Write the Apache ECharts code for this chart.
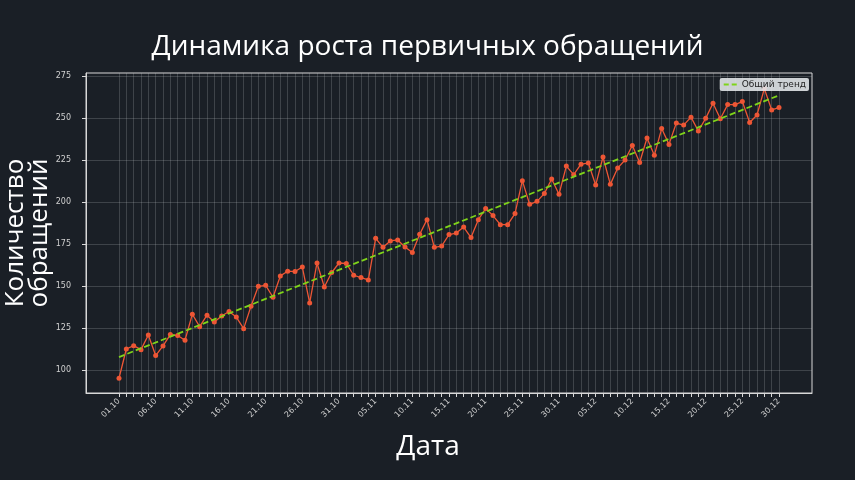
<!DOCTYPE html>
<html>
<head>
<meta charset="utf-8">
<script src="https://cdn.jsdelivr.net/npm/echarts@6/dist/echarts.min.js"></script>
<style>
html,body{margin:0;padding:0;background:#1a1f26;}
#chart{width:855px;height:480px;}
</style>
</head>
<body>
<div id="chart"></div>
<script>
// Tick labels (every 5 days, from 01.10)
var tickLabels = ['01.10','06.10','11.10','16.10','21.10','26.10','31.10','05.11','10.11','15.11','20.11','25.11','30.11','05.12','10.12','15.12','20.12','25.12','30.12'];
// Daily primary requests, 01.10 .. 30.12 (91 days)
var requests = [
  95.1,112.5,114.5,112.1,120.8,108.6,114.3,121.1,120.5,117.7,
  133.2,125.8,132.6,128.6,132.1,134.8,131.5,124.6,137.9,149.8,
  150.4,143.3,156.0,158.8,158.6,161.3,139.9,163.7,149.4,158.0,
  163.7,163.4,156.4,155.0,153.6,178.4,173.0,176.8,177.4,173.2,
  169.9,180.8,189.5,173.0,173.8,180.6,181.5,185.1,178.8,189.5,
  196.1,191.9,186.5,186.5,193.1,212.7,198.6,200.4,205.0,213.7,
  204.6,221.4,216.3,222.5,223.2,210.1,226.8,210.5,220.2,225.0,
  233.6,223.5,238.1,227.8,243.7,234.3,247.0,245.8,250.5,242.3,
  249.8,258.8,249.6,258.0,258.0,259.8,247.3,251.8,267.5,254.8,
  256.2
];
// Overall trend line endpoints (first day, last day)
var trendStart = 107.7;
var trendEnd = 263.5;
var yTicks = [100,125,150,175,200,225,250,275];

var dayTicks = [];
for (var i = 0; i < requests.length; i++) dayTicks.push(i);
var labelTicks = tickLabels.map(function(_, k){ return k * 5; });

var chart = echarts.init(document.getElementById('chart'));
chart.setOption({
  backgroundColor: '#1a1f26',
  animation: false,
  title: {
    text: 'Динамика роста первичных обращений',
    left: 'center',
    top: 28,
    textStyle: { color: '#ffffff', fontSize: 28, fontWeight: 'normal', fontFamily: 'Open Sans' }
  },
  legend: {
    data: [{ name: 'Общий тренд', icon: 'path://M0,0 L5,0 L5,2 L0,2 Z M8,0 L13,0 L13,2 L8,2 Z' }],
    right: 46,
    top: 78,
    backgroundColor: 'rgba(225,228,232,0.9)',
    borderRadius: 2,
    padding: [2, 3, 2, 4],
    itemWidth: 13,
    itemHeight: 2,
    itemGap: 4,
    textStyle: { color: '#222', fontSize: 9, fontFamily: 'DejaVu Sans' }
  },
  grid: {
    left: 86, top: 73, right: 43, bottom: 87,
    outerBoundsMode: 'none',
    containLabel: false,
    show: true, borderColor: '#d8d8d8', borderWidth: 1
  },
  xAxis: {
    type: 'value',
    min: -4.5, max: 94.5,
    name: 'Дата',
    nameLocation: 'middle',
    nameGap: 40,
    nameMoveOverlap: false,
    nameTextStyle: { color: '#ffffff', fontSize: 28, fontFamily: 'Open Sans', padding: [0, 42, 0, 0] },
    axisLine: { show: true, onZero: false, lineStyle: { color: '#d8d8d8', width: 1 } },
    axisTick: { show: true, customValues: dayTicks, length: 4, lineStyle: { color: '#d8d8d8' } },
    axisLabel: {
      customValues: labelTicks,
      rotate: 45,
      margin: 7,
      color: '#d0d0d0',
      fontSize: 8,
      fontFamily: 'DejaVu Sans',
      formatter: function(v){ return tickLabels[Math.round(v / 5)] || ''; }
    },
    splitLine: { show: true, lineStyle: { color: 'rgba(200,205,210,0.27)', width: 0.8 } }
  },
  yAxis: {
    type: 'value',
    min: 86.3, max: 276.8,
    name: 'Количество\nобращений',
    nameLocation: 'middle',
    nameRotate: 90,
    nameGap: 34,
    nameMoveOverlap: false,
    nameTextStyle: { color: '#ffffff', fontSize: 26, fontFamily: 'Open Sans', lineHeight: 24 },
    axisLine: { show: true, onZero: false, lineStyle: { color: '#d8d8d8', width: 1 } },
    axisTick: { show: true, customValues: yTicks, length: 4, lineStyle: { color: '#d8d8d8' } },
    axisLabel: { customValues: yTicks, color: '#d0d0d0', fontSize: 8, fontFamily: 'DejaVu Sans', margin: 15 },
    splitLine: { show: true, lineStyle: { color: 'rgba(200,205,210,0.27)', width: 0.8 } }
  },
  series: [
    {
      name: 'Обращения',
      type: 'line',
      data: requests.map(function(v, i){ return [i, v]; }),
      symbol: 'circle',
      symbolSize: 5,
      itemStyle: { color: '#ee5635' },
      lineStyle: { color: '#ee5635', width: 1.3 },
      z: 3
    },
    {
      name: 'Общий тренд',
      type: 'line',
      data: [[0, trendStart], [requests.length - 1, trendEnd]],
      symbol: 'none',
      itemStyle: { color: '#7fd41a' },
      lineStyle: { color: '#7fd41a', width: 1.8, type: [6, 3] },
      z: 4
    }
  ]
});
</script>
</body>
</html>
